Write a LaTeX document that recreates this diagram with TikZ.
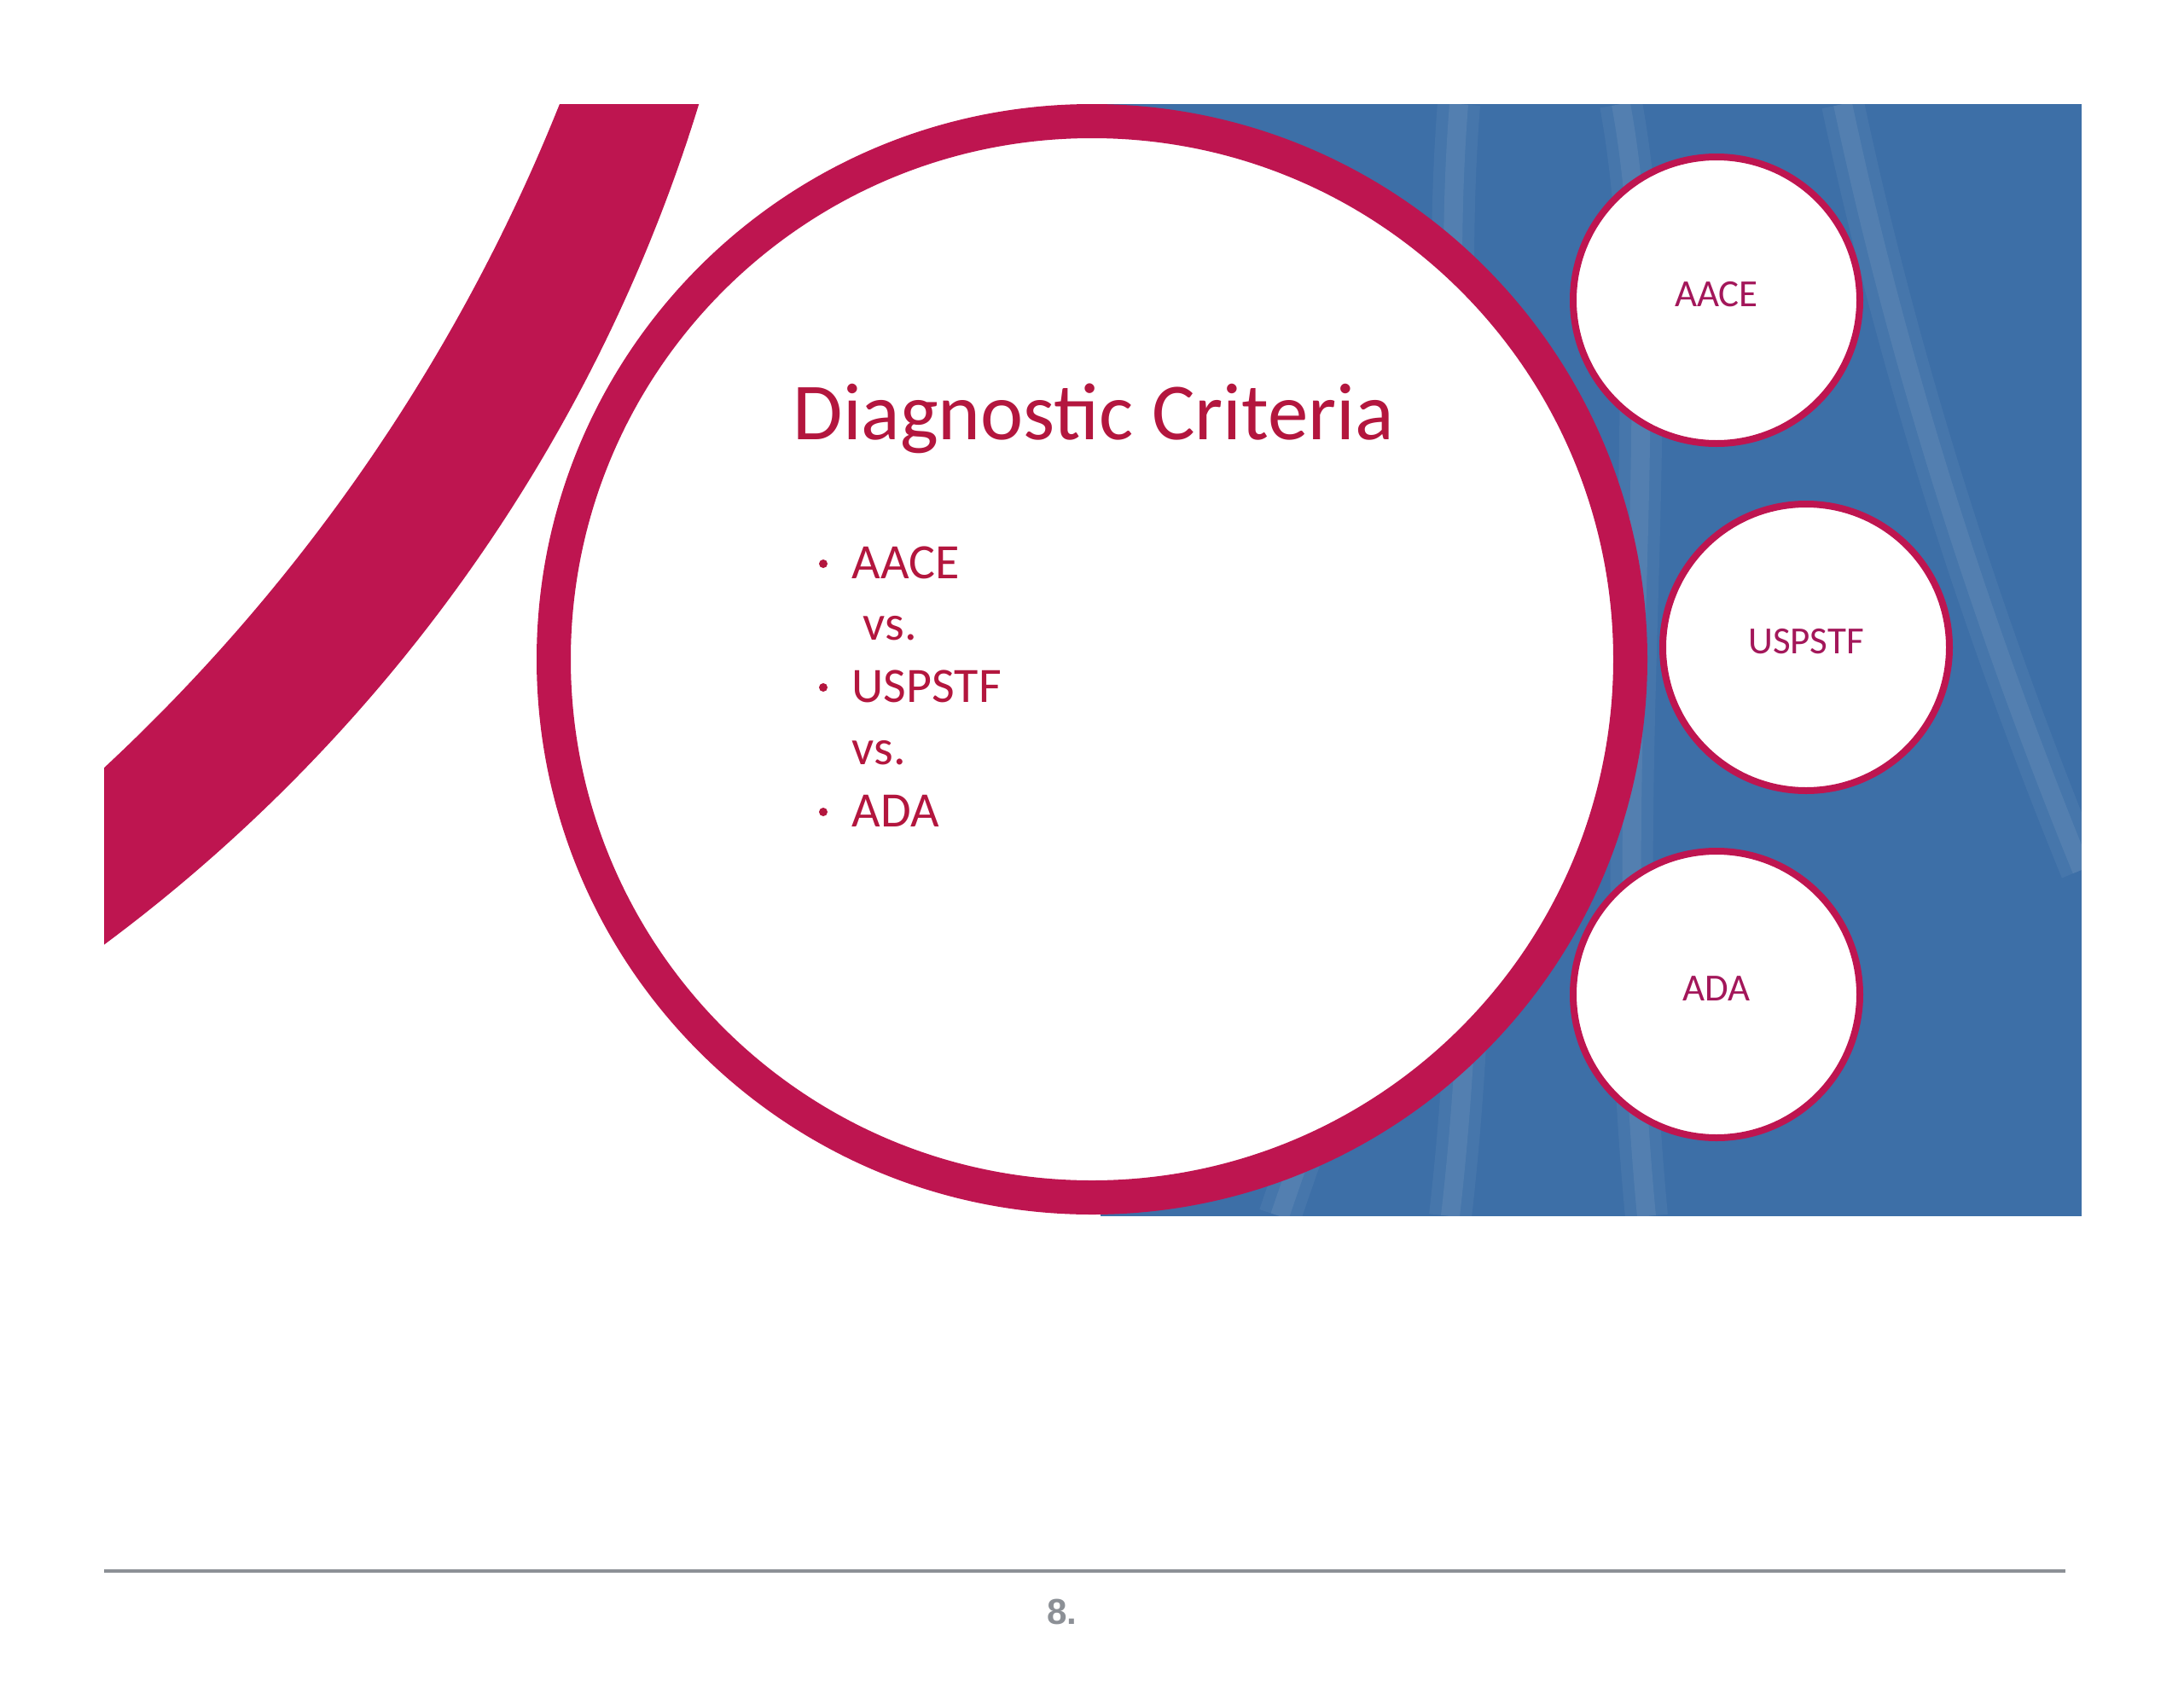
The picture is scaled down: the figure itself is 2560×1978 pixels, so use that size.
\documentclass[tikz,border=0pt]{standalone}
\usepackage{fontspec}
\setmainfont{Carlito}
\newfontfamily\numfont{Liberation Sans}
\usetikzlibrary{positioning}
\definecolor{ringred}{HTML}{BE1550}
\definecolor{slideblue}{HTML}{3D6FA7}
\definecolor{titlered}{HTML}{B3163E}
\definecolor{labelred}{HTML}{A3175A}
\definecolor{rulegray}{HTML}{8C9096}

\begin{document}
\begin{tikzpicture}[x=0.1mm,y=-0.1mm,
		smallcirc/.style={circle,draw=ringred,line width=0.8mm,fill=white,minimum size=33.6mm,inner sep=0pt,
			text=labelred,font=\fontsize{12.8}{15}\selectfont,text depth=4pt},
		itemtext/.style={anchor=base west,inner sep=0pt,text=titlered,font=\fontsize{16.5}{20}\selectfont},
		itemdot/.style={circle,fill=titlered,inner sep=0pt,minimum size=1mm},
		streak/.style={white,opacity=0.07,line width=2.2mm,
			preaction={draw,white,opacity=0.05,line width=5mm}}]
				\useasboundingbox (0,0) rectangle (2560,1978);
				\begin{scope}
					\clip (122,122) rectangle (2440,1426);
					% sweeping band on the left
					\fill[ringred,even odd rule] (-1030,-446) circle (1934) (-1345,-677) circle (2154);
					% blue panel with light streaks
					\fill[slideblue] (1290,122) rectangle (2440,1426);
					\draw[streak] (1710,122) .. controls (1680,500) and (1760,900) .. (1700,1426);
					\draw[streak] (1900,122) .. controls (1960,450) and (1880,900) .. (1930,1426);
					\draw[streak] (2160,122) .. controls (2230,450) and (2330,750) .. (2440,1020);
					\draw[streak] (1500,1426) .. controls (1560,1250) and (1620,1100) .. (1660,900);
					% big circle
					\draw[ringred,line width=4mm,fill=white] (1280,773) circle (631);
				\end{scope}
				% title and list
				\node[anchor=base west,inner sep=0pt,text=titlered,font=\fontsize{27}{32}\selectfont] (title) at (929,515) {Diagnostic Criteria};
				\node[itemtext] (aace) at (998,678) {AACE};
				\node[itemtext] (vs1) at (1011,750) {vs.};
				\node[itemtext] (uspstf) at (998,823) {USPSTF};
				\node[itemtext] (vs2) at (998,896) {vs.};
				\node[itemtext] (ada) at (998,969) {ADA};
				\foreach \nm/\yy in {aace/661,uspstf/806,ada/952}
					\node[itemdot] (dot\nm) at (965,\yy) {};
				% small circles
				\foreach \nm/\xx/\yy/\lbl in {caace/2012/352/AACE,cuspstf/2117/759/USPSTF,cada/2012/1166/ADA}
					\node[smallcirc] (\nm) at (\xx,\yy) {\lbl};
				% footer
				\coordinate (ruleL) at (122,1842);
				\coordinate (ruleR) at (2421,1842);
				\draw[rulegray,line width=0.43mm] (ruleL) -- (ruleR);
				\node[text=rulegray,font=\numfont\bfseries\fontsize{12}{14}\selectfont] (pnum) at (1245,1890) {8.};
			\end{tikzpicture}
\end{document}
